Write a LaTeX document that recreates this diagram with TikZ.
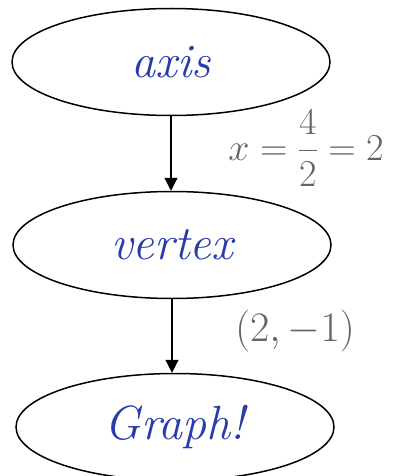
\RequirePackage{fix-cm}
\documentclass[tikz,border=0pt]{standalone}
\usepackage{amsmath}
\usepackage{xcolor}
\usepackage{tikz}
\usetikzlibrary{arrows.meta,shapes.geometric}

\definecolor{inkblue}{RGB}{40,60,170}
\definecolor{pencil}{RGB}{100,100,100}

\begin{document}
\begin{tikzpicture}[x=1pt, y=-1pt,
  step box/.style={draw, ellipse, line width=1.5pt, minimum width=318pt, minimum height=107pt, inner sep=0pt,
    text=inkblue, font=\fontsize{48}{54}\selectfont\itshape},
  note/.style={text=pencil, font=\fontsize{38}{44}\selectfont, inner sep=0pt},
  arr/.style={-{Triangle[length=13pt,width=13pt]}, line width=1.2pt}
]
\useasboundingbox (0,0) rectangle (393,476);
\node[step box] (axis) at (171,62) {axis};
\node[step box] (vertex) at (172,245) {vertex};
\node[step box] (graph) at (175,427) {Graph!};
\draw[arr] (axis.south) -- (axis.south |- vertex.north);
\draw[arr] (vertex.south) -- (vertex.south |- graph.north);
\node[note] (axisnote) at (306,148) {$x=\dfrac{4}{2}=2$};
\node[note, font=\fontsize{42}{48}\selectfont] (vertexnote) at (295,331) {$(2,-1)$};
\end{tikzpicture}
\end{document}
